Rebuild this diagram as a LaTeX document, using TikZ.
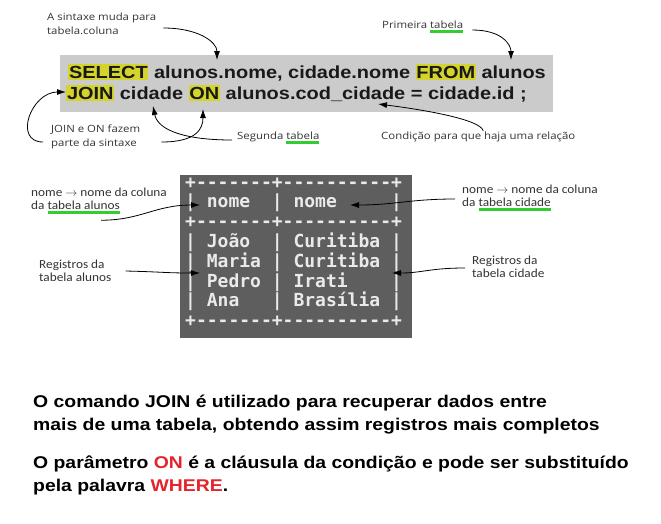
\documentclass[tikz,border=0pt]{standalone}
\usepackage{fontspec}
\setmainfont{Liberation Sans}
\newfontfamily\sqlfont[FakeStretch=1.14]{Liberation Sans}
\newfontfamily\notefont[FakeStretch=1.14]{Open Sans}
\newfontfamily\calfont[FakeStretch=1.08]{Carlito}
\newfontfamily\gridfont{DejaVu Sans Mono}
\usepackage{xcolor}
\usepackage{tikz}
\usetikzlibrary{arrows.meta,positioning,calc}
\definecolor{qgray}{HTML}{CBCBCB}
\definecolor{kwyel}{HTML}{D4D42C}
\definecolor{gdark}{HTML}{5E5E5E}
\definecolor{gink}{HTML}{EAEAEA}
\definecolor{mark}{HTML}{33CC33}
\definecolor{kwred}{HTML}{E3242B}
\definecolor{ink}{HTML}{333333}
\newcommand{\kw}[1]{{\setlength{\fboxsep}{0.8pt}\colorbox{kwyel}{\rule[-1.2pt]{0pt}{14.8pt}#1}}}
\newlength\marklen
\newcommand{\gline}[1]{\settowidth{\marklen}{#1}\rlap{\textcolor{mark}{\rule[-4.5pt]{\marklen}{3pt}}}#1}
\newcommand{\gridrule}{+-{}-{}-{}-{}-{}-{}-+-{}-{}-{}-{}-{}-{}-{}-{}-{}-+}
\tikzset{
  qbox/.style={fill=qgray,minimum width=493pt,minimum height=57pt,inner sep=0pt},
  gbox/.style={fill=gdark,minimum width=232pt,minimum height=163pt,inner sep=0pt},
  sqltxt/.style={font=\sqlfont\bfseries\fontsize{17.5}{23}\selectfont,text=black!90,inner sep=0pt,anchor=base west},
  row/.style={font=\gridfont\bfseries\fontsize{18}{20}\selectfont,text=gink,inner sep=0pt,anchor=mid west},
  note/.style={font=\notefont\fontsize{10}{14}\selectfont,text=ink,align=left,inner sep=1pt,anchor=west},
  cnote/.style={font=\calfont\fontsize{12.3}{13}\selectfont,text=ink,align=left,inner sep=1pt,anchor=west},
  point/.style={-{Latex[length=9pt,width=6pt]},line width=0.8pt},
  body/.style={font=\sqlfont\bfseries\fontsize{17}{22.5}\selectfont,align=left,inner sep=0pt,anchor=north west},
}
\begin{document}
\begin{tikzpicture}[x=1pt,y=-1pt]
  \useasboundingbox (0,0) rectangle (661,523);
  \node[qbox] (query) at (306.5,83.5) {};
  \node[sqltxt] (sqlA) at (68,78) {\kw{SELECT} alunos.nome, cidade.nome \kw{FROM} alunos};
  \node[sqltxt] (sqlB) at (66,99) {\kw{JOIN} cidade \kw{ON} alunos.cod\_cidade = cidade.id ;};
  \node[note] (syntax) at (46,24) {A sintaxe muda para\\tabela.coluna};
  \node[note] (first) at (381,27) {Primeira \gline{tabela}};
  \node[note] (joinon) at (50,137) {JOIN e ON fazem\\parte da sintaxe};
  \node[note] (second) at (236,138) {Segunda \gline{tabela}};
  \node[note] (cond) at (380,137) {Condição para que haja uma relação};
  \coordinate (tSel) at (217,60);
  \coordinate (tFrom) at (511,60);
  \coordinate (tJoin) at (66,92);
  \coordinate (tOn) at (203,109);
  \coordinate (tCid) at (153,106);
  \coordinate (tCod) at (378,104);
  \draw[point] ([shift={(6pt,-4pt)}]syntax.east) .. controls +(35pt,0pt) and +(0pt,18pt) .. (tSel);
  \draw[point] ([shift={(8pt,-3pt)}]first.east) .. controls +(30pt,0pt) and +(0pt,15pt) .. (tFrom);
  \draw[point] ([shift={(-7pt,-5pt)}]joinon.west) .. controls +(-30pt,0pt) and +(-35pt,0pt) .. (tJoin);
  \draw[point] ([shift={(20pt,-5pt)}]joinon.east) .. controls +(35pt,0pt) and +(0pt,-20pt) .. (tOn);
  \draw[point] ([shift={(-4pt,-2pt)}]second.west) .. controls +(-45pt,0pt) and +(5pt,-25pt) .. (tCid);
  \draw[point] ([xshift=5pt]cond.north) .. controls +(-3pt,12pt) and +(40pt,-5pt) .. (tCod);
  \node[gbox] (grid) at (296,256.5) {};
  \foreach \txt [count=\i] in {\gridrule, |~nome~~|~nome~~~~~|, \gridrule, |~João~~|~Curitiba~|,
      |~Maria~|~Curitiba~|, |~Pedro~|~Irati~~~~|, |~Ana~~~|~Brasília~|, \gridrule}
    \node[row] (r\i) at (185,{185.5+19.8*(\i-1)}) {\txt};
  \node[cnote] (colA) at (30,201) {nome $\rightarrow$ nome da coluna\\da \gline{tabela alunos}};
  \node[cnote] (recA) at (38,271) {Registros da\\tabela alunos};
  \node[cnote] (colB) at (461,198) {nome $\rightarrow$ nome da coluna\\da \gline{tabela cidade}};
  \node[cnote] (recB) at (471,267) {Registros da\\tabela cidade};
  \coordinate (tHdA) at (200,205);
  \coordinate (tRecA) at (200,273);
  \coordinate (tHdB) at (350,205);
  \coordinate (tRecB) at (392,273);
  \draw[point] ([shift={(2pt,-5pt)}]colA.south) .. controls +(40pt,0pt) and +(-45pt,0pt) .. (tHdA);
  \draw[point] ([xshift=13pt]recA.east) .. controls +(40pt,-1pt) and +(-35pt,0pt) .. (tRecA);
  \draw[point] ([shift={(-6pt,-1pt)}]colB.west) .. controls +(-45pt,0pt) and +(45pt,0pt) .. (tHdB);
  \draw[point] ([shift={(-6pt,-1pt)}]recB.west) .. controls +(-35pt,0pt) and +(30pt,0pt) .. (tRecB);
  \node[body] (para1) at (33,395) {O comando JOIN é utilizado para recuperar dados entre\\mais de uma tabela, obtendo assim registros mais completos};
  \node[body] (para2) at (33,456) {O parâmetro \textcolor{kwred}{ON} é a cláusula da condição e pode ser substituído\\pela palavra \textcolor{kwred}{WHERE}.};
\end{tikzpicture}
\end{document}
